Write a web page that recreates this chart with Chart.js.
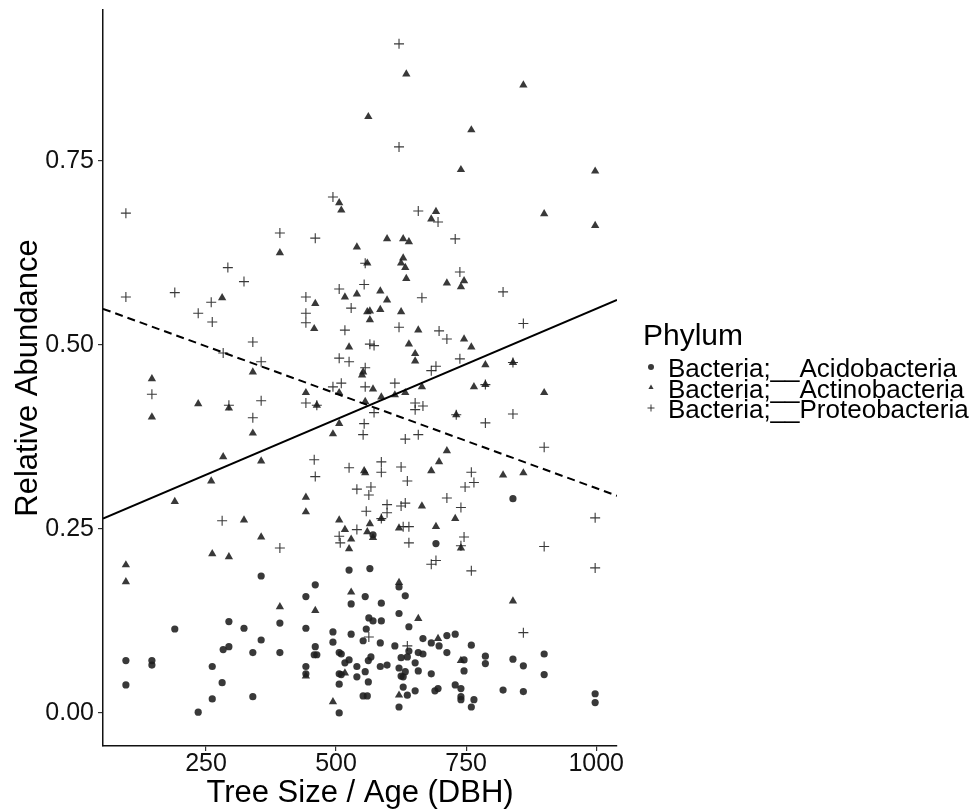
<!DOCTYPE html>
<html>
<head>
<meta charset="utf-8">
<title>Relative Abundance by Tree Size</title>
<script src="https://cdn.jsdelivr.net/npm/chart.js@4.4.0/dist/chart.umd.min.js"></script>
<style>
  html, body { margin: 0; padding: 0; background: #fff; }
  #wrap { width: 973px; height: 812px; position: relative; }
</style>
</head>
<body>
<div id="wrap"><canvas id="chart"></canvas></div>
<script>
// Axis ticks
const xTicks = [250, 500, 750, 1000];
const yTicks = [0, 0.25, 0.5, 0.75];

const legendTitle = 'Phylum';
const phylumNames = ['Bacteria;__Acidobacteria', 'Bacteria;__Actinobacteria', 'Bacteria;__Proteobacteria'];

// Bacteria;__Acidobacteria
const acidoX = [356, 525, 460, 442, 529, 190, 294, 323, 392, 442, 494, 529, 494, 356, 460, 283, 294, 340, 392, 458,
  463, 506, 510, 525, 517, 96, 146, 146, 262, 442, 442, 506, 510, 540, 540, 96, 281, 506, 262, 340, 235, 506,
  840, 692, 571, 565, 621, 633, 556, 587, 621, 563, 571, 587, 640, 558, 552, 585, 613, 667, 683, 698, 713, 729,
  760, 640, 658, 667, 713, 567, 625, 637, 787, 787, 840, 900, 860, 746, 562, 585, 598, 652, 621, 556, 633, 625,
  629, 658, 683, 746, 900, 562, 629, 729, 740, 690, 696, 652, 637, 821, 860, 552, 560, 740, 740, 765, 621, 760,
  998, 998];
const acidoY = [0.186, 0.194, 0.174, 0.158, 0.148, 0.114, 0.124, 0.115, 0.122, 0.115, 0.110, 0.107, 0.096, 0.099, 0.090, 0.086, 0.090, 0.082, 0.082, 0.079,
  0.079, 0.082, 0.080, 0.072, 0.068, 0.071, 0.071, 0.065, 0.063, 0.063, 0.053, 0.053, 0.052, 0.063, 0.049, 0.038, 0.041, 0.039, 0.019, 0.022, 0.001, 0.000,
  0.291, 0.230, 0.242, 0.196, 0.171, 0.159, 0.158, 0.149, 0.135, 0.129, 0.125, 0.125, 0.117, 0.114, 0.098, 0.095, 0.091, 0.101, 0.095, 0.091, 0.105, 0.107,
  0.092, 0.084, 0.082, 0.080, 0.082, 0.076, 0.075, 0.076, 0.077, 0.067, 0.073, 0.080, 0.064, 0.072, 0.071, 0.063, 0.065, 0.068, 0.061, 0.056, 0.056, 0.050,
  0.049, 0.057, 0.053, 0.057, 0.052, 0.042, 0.035, 0.038, 0.033, 0.030, 0.033, 0.030, 0.024, 0.031, 0.029, 0.023, 0.023, 0.022, 0.018, 0.018, 0.008, 0.008,
  0.026, 0.014];

// Bacteria;__Actinobacteria
const actinoX = [506, 510, 540, 635, 860, 562, 760, 740, 998, 692, 683, 900, 998, 598, 629, 640,
  392, 281, 460, 458, 517, 540, 525, 340, 146, 146, 235, 294, 340, 442, 463, 506, 506, 494, 283, 356, 260,
  560, 629, 625, 633, 635, 746, 740, 713, 585, 598, 560, 565, 585, 565, 625, 658, 746, 760, 640, 652, 652,
  787, 840, 552, 550, 571, 665, 765, 787, 900, 587, 613, 633, 556, 731, 713, 698, 683, 554, 556, 821, 860,
  190, 442, 442, 323, 506, 517, 529, 525, 356, 262, 294, 96, 96, 529, 392, 460, 442, 517, 494,
  665, 587, 565, 560, 571, 621, 692, 729, 740, 621, 840, 658, 696, 740, 621];
const actinoY = [0.693, 0.683, 0.633, 0.868, 0.853, 0.810, 0.792, 0.738, 0.736, 0.681, 0.671, 0.678, 0.662, 0.644, 0.644, 0.640,
  0.625, 0.564, 0.556, 0.522, 0.565, 0.569, 0.497, 0.463, 0.454, 0.402, 0.420, 0.414, 0.380, 0.435, 0.418, 0.435, 0.393, 0.379, 0.348, 0.342, 0.315,
  0.611, 0.618, 0.611, 0.605, 0.590, 0.587, 0.579, 0.584, 0.573, 0.561, 0.545, 0.546, 0.548, 0.534, 0.545, 0.520, 0.508, 0.497, 0.501, 0.488, 0.478,
  0.473, 0.476, 0.463, 0.459, 0.440, 0.443, 0.443, 0.446, 0.435, 0.429, 0.432, 0.435, 0.423, 0.405, 0.356, 0.341, 0.329, 0.329, 0.326, 0.323, 0.326,
  0.287, 0.293, 0.273, 0.262, 0.262, 0.249, 0.236, 0.223, 0.239, 0.216, 0.212, 0.201, 0.178, 0.164, 0.144, 0.139, 0.050, 0.054, 0.015,
  0.281, 0.264, 0.257, 0.246, 0.238, 0.251, 0.253, 0.264, 0.224, 0.177, 0.152, 0.128, 0.101, 0.071, 0.024];

// Bacteria;__Proteobacteria
const proteoX = [96, 494, 392, 460, 621, 621, 658, 696, 729,
  292, 323, 96, 190, 260, 235, 262, 442, 442, 442, 506, 529, 517, 340, 283, 356, 506, 525, 146, 294,
  356, 340, 442, 463, 494, 510, 458, 525, 460,
  556, 738, 554, 821, 665, 621, 698, 713, 860, 565, 573, 738, 692, 683, 840, 556, 613, 556, 787, 573,
  652, 652, 667, 731, 554, 552, 787, 840, 633, 658, 900, 587, 587, 625, 760, 637, 765, 748, 567,
  540, 281, 506, 508, 540, 392,
  563, 713, 740, 598, 598, 625, 633, 558, 587, 629, 640, 640, 746, 740, 683, 692, 760, 900, 998, 998,
  563, 637, 860];
const proteoY = [0.679, 0.701, 0.652, 0.645, 0.909, 0.769, 0.682, 0.667, 0.644,
  0.605, 0.586, 0.565, 0.571, 0.558, 0.543, 0.531, 0.565, 0.543, 0.530, 0.576, 0.550, 0.520, 0.504, 0.489, 0.477, 0.482, 0.477, 0.433, 0.418,
  0.424, 0.401, 0.421, 0.418, 0.443, 0.448, 0.344, 0.333, 0.321,
  0.611, 0.599, 0.582, 0.572, 0.564, 0.524, 0.519, 0.508, 0.529, 0.501, 0.499, 0.481, 0.471, 0.465, 0.476, 0.469, 0.448, 0.443, 0.446, 0.408,
  0.421, 0.412, 0.417, 0.405, 0.393, 0.378, 0.394, 0.406, 0.372, 0.378, 0.361, 0.341, 0.327, 0.334, 0.327, 0.315, 0.313, 0.307, 0.307,
  0.304, 0.261, 0.240, 0.231, 0.249, 0.224,
  0.296, 0.292, 0.279, 0.283, 0.272, 0.281, 0.285, 0.274, 0.264, 0.253, 0.253, 0.231, 0.239, 0.227, 0.202, 0.207, 0.193, 0.226, 0.265, 0.197,
  0.103, 0.091, 0.109];

// Linear fits (end values at the panel edges)
const fitX = [52, 1040];
const solidFitY = [0.264, 0.561];
const dashedFitY = [0.549, 0.295];

const FONT = '"Liberation Sans", Arial, Helvetica, sans-serif';
const INK = 'rgba(30,30,30,0.88)';

function toPoints(xs, ys) {
  return xs.map((x, i) => ({ x: x, y: ys[i] }));
}

// Draws the "Phylum" key to the right of the panel
const phylumLegend = {
  id: 'phylumLegend',
  afterDraw(chart) {
    const ctx = chart.ctx;
    const left = chart.chartArea.right + 26;
    ctx.save();
    ctx.fillStyle = '#000';
    ctx.textBaseline = 'alphabetic';
    ctx.font = '30px ' + FONT;
    ctx.fillText(legendTitle, left, 345);
    ctx.font = '26px ' + FONT;
    phylumNames.forEach((name, i) => {
      const y = 377 + i * 20.5;
      ctx.fillStyle = '#000';
      ctx.fillText(name, left + 25, y);
      const ds = chart.data.datasets[i + 2];
      ctx.fillStyle = INK;
      ctx.strokeStyle = INK;
      ctx.lineWidth = 1;
      Chart.helpers.drawPoint(ctx, {
        pointStyle: ds.pointStyle,
        radius: ds.pointStyle === 'cross' ? 3.5 : 3,
        rotation: 0,
        borderWidth: ds.pointStyle === 'cross' ? 1 : 0
      }, left + 8, y - 10);
    });
    ctx.restore();
  }
};

const ctx = document.getElementById('chart').getContext('2d');
new Chart(ctx, {
  type: 'scatter',
  data: {
    datasets: [
      {
        label: 'fit solid',
        data: toPoints(fitX, solidFitY),
        showLine: true,
        borderColor: '#000',
        borderWidth: 2,
        pointRadius: 0,
        order: 0
      },
      {
        label: 'fit dashed',
        data: toPoints(fitX, dashedFitY),
        showLine: true,
        borderColor: '#000',
        borderWidth: 2,
        borderDash: [8, 5],
        pointRadius: 0,
        order: 0
      },
      {
        label: phylumNames[0],
        data: toPoints(acidoX, acidoY),
        pointStyle: 'circle',
        pointRadius: 3.6,
        pointBorderWidth: 0,
        backgroundColor: INK,
        borderColor: INK,
        order: 3
      },
      {
        label: phylumNames[1],
        data: toPoints(actinoX, actinoY),
        pointStyle: 'triangle',
        pointRadius: 4.8,
        pointBorderWidth: 0,
        backgroundColor: INK,
        borderColor: INK,
        order: 2
      },
      {
        label: phylumNames[2],
        data: toPoints(proteoX, proteoY),
        pointStyle: 'cross',
        pointRadius: 5,
        pointBorderWidth: 1.1,
        backgroundColor: INK,
        borderColor: INK,
        order: 1
      }
    ]
  },
  options: {
    responsive: true,
    maintainAspectRatio: false,
    animation: false,
    events: [],
    layout: {
      padding: { left: 0, top: 10, right: 356, bottom: 0 }
    },
    plugins: {
      legend: { display: false },
      tooltip: { enabled: false }
    },
    scales: {
      x: {
        type: 'linear',
        min: 52,
        max: 1040,
        afterFit: scale => {
          scale.height = 66;
          scale.paddingLeft = 0;
          scale.paddingRight = 0;
        },
        afterBuildTicks: scale => { scale.ticks = xTicks.map(v => ({ value: v })); },
        grid: { drawOnChartArea: false, drawTicks: true, tickLength: 5, color: '#333', lineWidth: 1.2 },
        border: { display: true, color: '#111', width: 1.5 },
        ticks: {
          color: '#111',
          padding: -2,
          font: { family: FONT, size: 25 },
          callback: v => String(v)
        },
        title: {
          display: true,
          text: 'Tree Size / Age (DBH)',
          color: '#000',
          font: { family: FONT, size: 31 },
          padding: { top: 0, bottom: 0 }
        }
      },
      y: {
        type: 'linear',
        min: -0.045,
        max: 0.955,
        afterFit: scale => {
          scale.width = 103;
          scale.paddingTop = 0;
          scale.paddingBottom = 0;
        },
        afterBuildTicks: scale => { scale.ticks = yTicks.map(v => ({ value: v })); },
        grid: { drawOnChartArea: false, drawTicks: true, tickLength: 5, color: '#333', lineWidth: 1.2 },
        border: { display: true, color: '#111', width: 1.5 },
        ticks: {
          color: '#111',
          padding: 4,
          font: { family: FONT, size: 25 },
          callback: v => Number(v).toFixed(2)
        },
        title: {
          display: true,
          text: 'Relative Abundance',
          color: '#000',
          font: { family: FONT, size: 31 },
          padding: { top: 10, bottom: 0 }
        }
      }
    }
  },
  plugins: [phylumLegend]
});
</script>
</body>
</html>
